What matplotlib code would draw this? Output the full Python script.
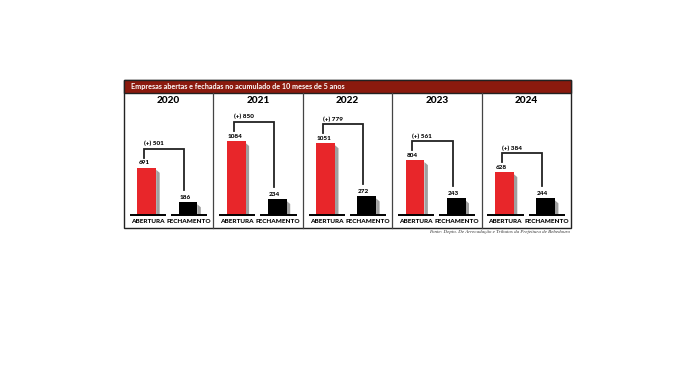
import matplotlib
matplotlib.use('Agg')
import matplotlib.pyplot as plt
from matplotlib.patches import Rectangle, Polygon

plt.rcParams['font.family'] = ['Lato', 'DejaVu Sans']

years = ['2020', '2021', '2022', '2023', '2024']
aberturas = [691, 1084, 1051, 804, 628]
fechamentos = [186, 234, 272, 243, 244]
saldo = [501, 850, 779, 561, 384]
cat_labels = ['ABERTURA', 'FECHAMENTO']
title = 'Empresas abertas e fechadas no acumulado de 10 meses de 5 anos'
source = 'Fonte: Depto. De Arrecadação e Tributos da Prefeitura de Bebedouro'

W, H = 696, 367
RED = '#e8262a'
DARKRED = '#8b1a0e'
SHADOW = '#a0a0a0'


def fx(x):
    return x / W


def fy(y):
    return 1 - y / H


fig = plt.figure(figsize=(W / 100, H / 100), dpi=100)

# frame and title bar (pixel layout)
left, right, top, bottom = 124, 571, 80, 228
bar_top = 93
fig.patches.append(Rectangle((fx(left), fy(bottom)), fx(right - left), fy(top) - fy(bottom),
                             transform=fig.transFigure, fill=False, edgecolor='#222222', lw=1.0))
fig.patches.append(Rectangle((fx(left), fy(bar_top)), fx(right - left), fy(top) - fy(bar_top),
                             transform=fig.transFigure, facecolor=DARKRED, edgecolor='#222222', lw=1.0))
fig.text(fx(131), fy(86.5), title, color='white', fontsize=5.2, ha='left', va='center', fontweight='bold')
fig.text(fx(570), fy(232), source, fontsize=3.6, ha='right', va='center', style='italic',
         family=['Liberation Serif'], color='#333333')

# panel geometry
pw = (right - left) / len(years)
base_y = 215
px_per_unit = 74 / max(aberturas)
unit = 1 / px_per_unit  # data units per pixel
ymin = -(bottom - base_y) * unit
ymax = (base_y - bar_top) * unit

bw = 0.21
xpos = [0.255, 0.715]

for i, yr in enumerate(years):
    x0 = left + i * pw
    ax = fig.add_axes([fx(x0), fy(bottom), fx(pw), fy(bar_top) - fy(bottom)])
    ax.set_xlim(0, 1)
    ax.set_ylim(ymin, ymax)
    ax.axis('off')
    if i > 0:
        fig.lines.append(plt.Line2D([fx(x0), fx(x0)], [fy(bottom), fy(bar_top)],
                                    transform=fig.transFigure, color='#444444', lw=0.9))

    ax.text(0.5, (base_y - 100.5) * unit, yr, ha='center', va='center', fontsize=7.2, fontweight='black')

    vals = [aberturas[i], fechamentos[i]]
    cols = [RED, 'black']
    sx = 3.5 / pw  # shadow width in axes units
    for x, v, c, lab in zip(xpos, vals, cols, cat_labels):
        xl, xr = x - bw / 2, x + bw / 2
        # shadow
        ax.add_patch(Polygon([(xr, 0), (xr, v - 2 * unit), (xr + sx, v - 5 * unit), (xr + sx, 0)],
                             closed=True, facecolor=SHADOW, edgecolor='none', zorder=1))
        ax.bar(x, v, width=bw, color=c, zorder=2)
        # baseline
        ax.plot([x - 0.19, x + 0.215], [0, 0], color='black', lw=1.4, solid_capstyle='butt', zorder=3)
        ax.text(xl + 0.01, v + 2.5 * unit, str(v), ha='left', va='bottom', fontsize=4.6, fontweight='black')
        ax.text(x + 0.01, -6.5 * unit, lab, ha='center', va='center', fontsize=4.6, fontweight='black')

    # bracket
    xa = xpos[0] - 0.03
    xb = xpos[1] - 0.04
    ytop = vals[0] + 19 * unit
    ax.plot([xa, xa, xb, xb], [vals[0] + 10 * unit, ytop, ytop, vals[1] + 12 * unit],
            color='#222222', lw=1.3, solid_joinstyle='miter', zorder=3)
    ax.text(xa, ytop + 2.5 * unit, '(+) %d' % saldo[i], ha='left', va='bottom', fontsize=4.6, fontweight='black')

fig.savefig('out.png', dpi=100, facecolor='white')
